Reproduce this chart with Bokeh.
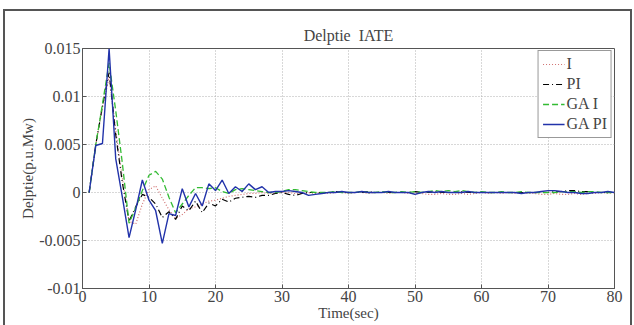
from bokeh.plotting import figure
from bokeh.models import Range1d, FixedTicker, Legend, LegendItem, Title
from bokeh.embed import file_html
from bokeh.resources import INLINE

time = list(range(1, 81))

i_ctrl = [0, 0.005, 0.0088, 0.012, 0.0065, 0.0015, -0.003, -0.0033, -0.0012, 0.0003,
          0.0007, -0.0006, -0.0018, -0.0027, -0.0023, -0.0017, -0.0015, -0.0012, -0.0009, -0.0008,
          -0.0006, -0.0004, -0.0003, -0.0002, -0.0001, -0.0001, 0.0, -0.0001, -0.0001, 0.0,
          0.0, -0.0001, -0.0001, 0.0, -0.0001, 0.0, -0.0001, 0.0, 0.0, -0.0001,
          0.0, 0.0, -0.0001, 0.0, 0.0, -0.0001, 0.0, 0.0, -0.0001, -0.0001,
          -0.0001, -0.0002, -0.0002, -0.0001, -0.0002, -0.0002, -0.0001, -0.0002, -0.0001, 0.0,
          -0.0001, 0.0, -0.0001, 0.0, -0.0001, 0.0, -0.0001, -0.0001, -0.0002, -0.0002,
          -0.0001, -0.0002, -0.0002, -0.0001, -0.0002, -0.0001, -0.0001, 0.0, -0.0001, 0.0]

pi_ctrl = [0, 0.005, 0.009, 0.0125, 0.006, 0.001, -0.003, -0.0015, -0.0002, -0.0005,
           -0.0012, -0.0026, -0.002, -0.0028, -0.0014, -0.0019, -0.0009, -0.0021, -0.0011, -0.0014,
           -0.0007, -0.001, -0.0006, -0.0005, -0.0004, -0.0005, -0.0003, -0.0003, -0.0001, 0.0,
           -0.0002, -0.0003, -0.0001, 0.0, 0.0, 0.0, 0.0, 0.0001, 0.0, 0.0,
           0.0, 0.0, 0.0001, 0.0, 0.0, 0.0, 0.0, 0.0, 0.0, 0.0001,
           0.0, 0.0, 0.0001, 0.0, 0.0, 0.0, 0.0001, 0.0, 0.0, 0.0,
           0.0, 0.0, 0.0, 0.0, 0.0, 0.0, 0.0, 0.0, 0.0, 0.0,
           0.0001, 0.0001, 0.0002, 0.0002, 0.0001, 0.0001, 0.0, 0.0, 0.0, 0.0]

ga_i = [0, 0.005, 0.0092, 0.0135, 0.0085, 0.003, -0.0032, -0.0016, 0.0002, 0.0018,
        0.0022, 0.0014, -0.0005, -0.0021, -0.0012, -0.0003, 0.0005, 0.0005, 0.0004, 0.0005,
        0.0001, -0.0001, 0.0003, 0.0004, 0.0003, 0.0002, 0.0001, 0.0, 0.0, 0.0001,
        0.0003, 0.0003, 0.0002, 0.0001, 0.0, 0.0, 0.0, 0.0001, 0.0, 0.0,
        0.0, 0.0001, 0.0, 0.0, 0.0001, 0.0, 0.0, 0.0001, 0.0, 0.0001,
        0.0, 0.0001, 0.0002, 0.0001, 0.0002, 0.0001, 0.0002, 0.0001, 0.0, 0.0001,
        0.0, 0.0, 0.0001, 0.0, 0.0, 0.0001, 0.0, 0.0, 0.0, 0.0,
        0.0, 0.0001, 0.0001, 0.0001, 0.0, 0.0001, 0.0001, 0.0, 0.0, 0.0]

ga_pi = [0, 0.0049, 0.0051, 0.015, 0.0035, -0.0005, -0.0047, -0.0018, 0.0013, -0.0008,
         -0.0019, -0.0053, -0.0022, -0.0024, 0.0004, -0.0015, -0.0001, -0.0014, 0.0009, 0.0002,
         0.0013, -0.0001, 0.0006, 0.0001, 0.0009, 0.0003, 0.0006, 0.0, 0.0001, 0.0001,
         0.0002, 0.0001, 0.0, -0.0003, -0.0002, -0.0001, 0.0, 0.0, 0.0001, 0.0,
         0.0, 0.0001, 0.0, 0.0, 0.0, 0.0001, 0.0, 0.0, 0.0, -0.0002,
         0.0, 0.0001, 0.0, 0.0001, 0.0, 0.0, 0.0, 0.0001, 0.0, 0.0,
         0.0, 0.0, 0.0, 0.0, 0.0, -0.0001, 0.0, 0.0, 0.0001, 0.0002,
         0.0002, 0.0001, 0.0, 0.0, -0.0001, -0.0001, 0.0, 0.0, 0.0001, 0.0]

x_ticks = [0, 10, 20, 30, 40, 50, 60, 70, 80]
y_ticks = [-0.01, -0.005, 0, 0.005, 0.01, 0.015]
y_tick_labels = ["-0.01", "-0.005", "0", "0.005", "0.01", "0.015"]
title_text = "Delptie\u00a0 IATE"

FONT = "Liberation Serif"

p = figure(width=634, height=325, output_backend="svg", toolbar_location=None,
           x_range=Range1d(0, 80), y_range=Range1d(-0.01, 0.015),
           min_border_left=82, min_border_right=20, min_border_top=48, min_border_bottom=37)
p.border_fill_alpha = 0
p.styles = {"background-color": "white",
            "box-shadow": ("inset 0 9px 0 0 white, inset 3px 0 0 0 white, inset -2px 0 0 0 white, "
                           "inset 0 11px 0 0 #555555, inset 5px 0 0 0 #555555, inset -4px 0 0 0 #555555")}

spacer = Title(text="\u00a0", text_font_size="1px", align="center", standoff=0)
p.add_layout(spacer, "above")
main_title = Title(text=title_text, align="center", text_font=FONT,
                   text_font_size="16px", text_font_style="normal", standoff=4)
p.add_layout(main_title, "above")

p.outline_line_color = "#555555"
p.outline_line_width = 1

for ax in (p.xaxis[0], p.yaxis[0]):
    ax.major_label_text_font = FONT
    ax.major_label_text_font_size = "16px"
    ax.axis_label_text_font = FONT
    ax.axis_label_text_font_size = "15px"
    ax.axis_label_text_font_style = "normal"
    ax.axis_line_color = "#555555"
    ax.major_tick_line_color = "#555555"
    ax.major_tick_in = 4
    ax.major_tick_out = 0
    ax.minor_tick_line_color = None
    ax.major_label_standoff = 2
    ax.axis_label_standoff = 0

p.xaxis.ticker = FixedTicker(ticks=x_ticks)
p.yaxis.ticker = FixedTicker(ticks=y_ticks)
p.yaxis.major_label_overrides = {t: l for t, l in zip(y_ticks, y_tick_labels)}
p.xaxis.axis_label = "Time(sec)"
p.yaxis.axis_label = "Delptie(p.u.Mw)"

p.grid.grid_line_color = "#b0b0b0"
p.grid.grid_line_dash = "1 2"
p.grid.grid_line_width = 1

r1 = p.line(time, i_ctrl, line_color="#d07070", line_dash="1 2", line_width=1.2)
r2 = p.line(time, pi_ctrl, line_color="#000000", line_dash="6 3 1 3", line_width=1.2)
r3 = p.line(time, ga_i, line_color="#33bb33", line_dash="6 3", line_width=1.3)
r4 = p.line(time, ga_pi, line_color="#2233aa", line_width=1.4)

legend = Legend(items=[LegendItem(label="I", renderers=[r1]),
                       LegendItem(label="PI", renderers=[r2]),
                       LegendItem(label="GA I", renderers=[r3]),
                       LegendItem(label="GA PI", renderers=[r4])],
                location="top_right")
legend.label_text_font = FONT
legend.label_text_font_size = "16px"
legend.glyph_width = 22
legend.glyph_height = 18
legend.label_height = 18
legend.label_standoff = 2
legend.spacing = 2
legend.padding = 4
legend.margin = 2
legend.border_line_color = "#333333"
legend.background_fill_alpha = 1
p.add_layout(legend, "center")

open("out.html", "w").write(file_html(p, INLINE))
